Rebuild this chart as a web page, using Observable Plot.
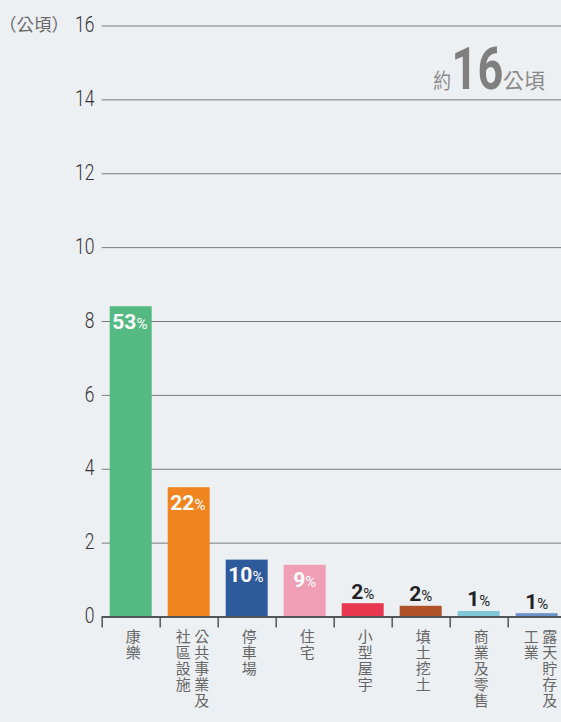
<!DOCTYPE html>
<html>
<head>
<meta charset="utf-8">
<script src="https://cdn.jsdelivr.net/npm/d3@7"></script>
<script src="https://cdn.jsdelivr.net/npm/@observablehq/plot@0.6"></script>
<style>
  html, body { margin: 0; padding: 0; background: #edf0f3; }
  #wrap { position: relative; width: 561px; height: 722px; overflow: hidden; background: #edf0f3;
          font-family: "Noto Sans CJK TC", "Noto Sans", sans-serif; }
  #unit { position: absolute; left: -1px; top: 13px; font-size: 17.5px; line-height: 22px; color: #6b6b6b; }
  #total { position: absolute; right: 16px; top: 39px; color: #8a8a8a; white-space: nowrap;
           display: flex; align-items: baseline; }
  #total .s { font-size: 21px; line-height: 21px; position: relative; top: -1.5px; }
  #total .pre { display: inline-block; transform: scaleX(0.85); transform-origin: right center; }
  #total .big { font-family: Roboto, sans-serif; font-weight: 700; font-size: 60px; line-height: 60px;
                color: #7f7f7f; display: inline-block; transform: scaleX(0.75); transform-origin: center;
                margin: 0 -8.4px; }
</style>
</head>
<body>
<div id="wrap">
  <div id="chart"></div>
  <div id="unit"></div>
  <div id="total"></div>
</div>
<script>
// ---- data ----
const categories = ["康樂", "公共事業及社區設施", "停車場", "住宅", "小型屋宇", "填土挖土", "商業及零售", "露天貯存及工業"];
const labelColumns = [["康樂"], ["公共事業及", "社區設施"], ["停車場"], ["住宅"], ["小型屋宇"], ["填土挖土"], ["商業及零售"], ["露天貯存及", "工業"]];
const areaHa = [8.4, 3.5, 1.54, 1.4, 0.36, 0.29, 0.15, 0.09];
const sharePct = [53, 22, 10, 9, 2, 2, 1, 1];
const barColors = ["#55b982", "#f0841f", "#2d5a9b", "#f09db6", "#e8384f", "#b05227", "#80c8d6", "#6b93cb"];
const yTicks = [0, 2, 4, 6, 8, 10, 12, 14, 16];
const unitLabel = "（公頃）";
const totalPrefix = "約", totalValue = "16", totalSuffix = "公頃";

document.getElementById("unit").textContent = unitLabel;
document.getElementById("total").innerHTML =
  `<span class="s pre">${totalPrefix}</span><span class="big">${totalValue}</span><span class="s">${totalSuffix}</span>`;

const NUMFONT = "Roboto, sans-serif";
const rows = categories.map((c, i) => ({i, c, v: areaHa[i], p: sharePct[i]}));
const inside = rows.filter(d => d.v > 1);
const outside = rows.filter(d => d.v <= 1);

function pctMarks(data, dy, fill) {
  const common = {x: d => d.i + 0.5, y: "v", dy, fill, lineAnchor: "bottom", fontFamily: NUMFONT, ariaLabel: "pct"};
  const two = data.filter(d => d.p >= 10), one = data.filter(d => d.p < 10);
  return [
    Plot.text(two, {...common, text: d => String(d.p), textAnchor: "end", dx: 5.2, fontSize: 21, fontWeight: "bold"}),
    Plot.text(one, {...common, text: d => String(d.p), textAnchor: "end", dx: 0, fontSize: 21, fontWeight: "bold"}),
    Plot.text(two, {...common, text: () => "%", textAnchor: "start", dx: 5.2, fontSize: 15}),
    Plot.text(one, {...common, text: () => "%", textAnchor: "start", dx: 0, fontSize: 15})
  ];
}

const labelCells = [];
labelColumns.forEach((cols, i) => cols.forEach((t, k) =>
  labelCells.push({i, k, n: cols.length, t: t.split("").join("\n")})));
const labelCommon = {x: d => d.i + 0.5, frameAnchor: "bottom", text: "t", dy: 14, lineAnchor: "top",
  lineHeight: 1.067, fontSize: 15, fill: "#666", textAnchor: "middle"};

const chart = Plot.plot({
  width: 561,
  height: 722,
  marginLeft: 101.7,
  marginRight: 0,
  marginTop: 25.5,
  marginBottom: 105.5,
  style: {background: "transparent", overflow: "visible", fontFamily: "Noto Sans CJK TC, sans-serif"},
  x: {domain: [0, categories.length], range: [101.7, 565.7], axis: null},
  y: {domain: [0, 16], range: [616.5, 25.5], axis: null},
  color: {domain: categories, range: barColors},
  marks: [
    Plot.gridY(yTicks.filter(t => t > 0), {stroke: "#7a7a7a", strokeOpacity: 1, strokeWidth: 1}),
    Plot.axisY(yTicks, {tickSize: 0, tickPadding: 7.7, fontSize: 22.5, fontWeight: 300, fill: "#333", dy: -1,
      fontFamily: NUMFONT, label: null}),
    Plot.rectY(rows, {x1: "i", x2: d => d.i + 1, y: "v", fill: "c", insetLeft: 8, insetRight: 8}),
    Plot.ruleY([0], {stroke: "#555", strokeWidth: 2}),
    Plot.axisX(d3.range(0, categories.length + 1), {tickSize: 11, tickFormat: () => "", stroke: "#555", strokeWidth: 1.5, label: null}),
    ...pctMarks(inside, 22, "white"),
    ...pctMarks(outside, -5, "#222"),
    Plot.text(labelCells.filter(d => d.n === 1), {...labelCommon, dx: 2}),
    Plot.text(labelCells.filter(d => d.n === 2 && d.k === 0), {...labelCommon, dx: 12.5}),
    Plot.text(labelCells.filter(d => d.n === 2 && d.k === 1), {...labelCommon, dx: -6})
  ]
});
// condense the y tick labels horizontally (anchor stays at the text's right end)
function condense(selector, k) {
  chart.querySelectorAll(selector).forEach(t => {
    const tr = t.getAttribute("transform") || "";
    t.setAttribute("transform", (tr + ` scale(${k},1)`).trim());
  });
}
condense('g[aria-label="y-axis tick label"] text', 0.78);
document.getElementById("chart").appendChild(chart);
</script>
</body>
</html>
